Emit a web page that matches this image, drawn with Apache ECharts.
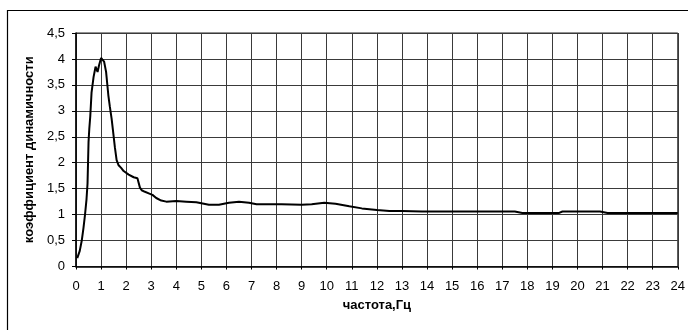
<!DOCTYPE html>
<html>
<head>
<meta charset="utf-8">
<script src="https://cdn.jsdelivr.net/npm/echarts@6/dist/echarts.min.js"></script>
<style>html,body{margin:0;padding:0;background:#fff;}#c{width:688px;height:330px;}</style>
</head>
<body>
<div id="c"></div>
<script>
var freq = [0.05,0.15,0.23,0.3,0.36,0.42,0.46,0.48,0.5,0.53,0.57,0.62,0.7,0.78,0.82,0.86,0.92,1.0,1.06,1.12,1.2,1.29,1.35,1.42,1.48,1.55,1.62,1.7,1.8,1.9,2.1,2.3,2.45,2.5,2.55,2.62,2.75,2.9,3.05,3.2,3.4,3.6,4.0,4.4,4.8,5.0,5.3,5.7,6.1,6.5,6.9,7.2,8.2,9.0,9.4,9.9,10.35,10.9,11.4,12.0,12.5,13.0,13.8,17.5,17.8,19.25,19.4,20.9,21.2,24];
var coef = [0.16,0.3,0.5,0.75,1.0,1.3,1.6,2.0,2.4,2.65,2.9,3.35,3.65,3.85,3.8,3.75,3.88,4.02,4.04,3.95,3.75,3.3,3.08,2.85,2.6,2.3,2.05,1.95,1.9,1.84,1.77,1.72,1.7,1.68,1.52,1.47,1.44,1.41,1.38,1.32,1.27,1.25,1.26,1.25,1.24,1.22,1.19,1.19,1.23,1.25,1.23,1.2,1.2,1.19,1.2,1.23,1.21,1.16,1.12,1.09,1.07,1.07,1.06,1.06,1.03,1.03,1.06,1.06,1.03,1.03];
var xTicks = ['0','1','2','3','4','5','6','7','8','9','10','11','12','13','14','15','16','17','18','19','20','21','22','23','24'];
var yTicks = ['0','0,5','1','1,5','2','2,5','3','3,5','4','4,5'];

var data = freq.map(function(f,i){return [f,coef[i]];});
var chart = echarts.init(document.getElementById('c'));
var font = 'Arial, "Liberation Sans", sans-serif';
chart.setOption({
  animation:false,
  backgroundColor:'#fff',
  grid:{left:76,right:9,top:33,bottom:63.5,show:true,borderColor:'#222',borderWidth:1},
  graphic:[{type:'rect',shape:{x:7.5,y:10.5,width:720,height:400},style:{fill:null,stroke:'#000',lineWidth:1.2}}],
  xAxis:{type:'value',min:0,max:24,interval:1,
    name:'частота,Гц',nameLocation:'middle',nameGap:32,
    nameTextStyle:{fontFamily:font,fontSize:13,fontWeight:'bold',color:'#000'},
    axisLine:{show:true,lineStyle:{color:'#000',width:1.5}},
    axisTick:{show:true,length:3,lineStyle:{color:'#000'}},
    axisLabel:{fontFamily:font,fontSize:13,color:'#000',margin:13,formatter:function(v){return xTicks[Math.round(v)];}},
    splitLine:{show:true,lineStyle:{color:'#3a3a3a',width:1}}},
  yAxis:{type:'value',min:0,max:4.5,interval:0.5,
    name:'коэффициент динамичности',nameLocation:'middle',nameGap:37,
    nameTextStyle:{fontFamily:font,fontSize:13,fontWeight:'bold',color:'#000'},
    axisLine:{show:true,lineStyle:{color:'#000',width:1.5}},
    axisTick:{show:true,length:4,lineStyle:{color:'#000'}},
    axisLabel:{fontFamily:font,fontSize:13,color:'#000',margin:11,formatter:function(v){return yTicks[Math.round(v*2)];}},
    splitLine:{show:true,lineStyle:{color:'#3a3a3a',width:1}}},
  series:[{type:'line',data:data,symbol:'none',smooth:false,lineStyle:{color:'#000',width:2}}]
});
</script>
</body>
</html>
